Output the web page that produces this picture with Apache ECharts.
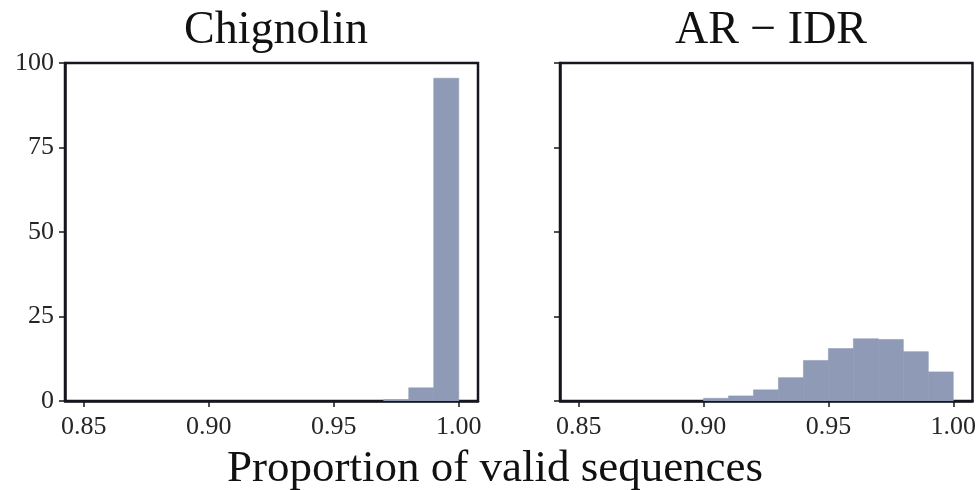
<!DOCTYPE html>
<html>
<head>
<meta charset="utf-8">
<script src="https://cdn.jsdelivr.net/npm/echarts@6/dist/echarts.min.js"></script>
<style>
  html, body { margin: 0; padding: 0; background: #ffffff; }
  #chart { width: 979px; height: 490px; }
</style>
</head>
<body>
<div id="chart"></div>
<script>
// Histogram bins (width 0.01) and densities for each system
const binStarts = [0.90, 0.91, 0.92, 0.93, 0.94, 0.95, 0.96, 0.97, 0.98, 0.99];
const binWidth = 0.01;
const chignolinDensity = [0, 0, 0, 0, 0, 0, 0, 0.4, 3.9, 95.5];
const arIdrDensity = [0.8, 1.5, 3.3, 6.9, 12.0, 15.5, 18.4, 18.2, 14.6, 8.6];

const panelTitles = ['Chignolin', 'AR \u2212 IDR'];
const xTicks = [0.85, 0.90, 0.95, 1.00];
const xLabel = 'Proportion of valid sequences';

const FONT = 'Liberation Serif';
const INK = '#16161f';
const BAR = '#8e9ab6';

function binData(values) {
  return binStarts.map((s, i) => [s, s + binWidth, values[i]]);
}

// One rectangle per non-empty bin, spanning [start, end] on x and [0, density] on y
function histItem(params, api) {
  if (!(api.value(2) > 0)) return null;
  const topLeft = api.coord([api.value(0), api.value(2)]);
  const bottomRight = api.coord([api.value(1), 0]);
  return {
    type: 'rect',
    shape: {
      x: topLeft[0],
      y: topLeft[1],
      width: bottomRight[0] - topLeft[0],
      height: bottomRight[1] - topLeft[1]
    },
    style: { fill: BAR, stroke: BAR, lineWidth: 0.6 }
  };
}

const grids = [
  { left: 65, top: 63, width: 413, height: 338 },
  { left: 560, top: 63, width: 413, height: 338 }
].map(g => Object.assign(g, { show: true, borderColor: INK, borderWidth: 2.5, backgroundColor: 'transparent' }));

function xAxis(gridIndex) {
  return {
    type: 'value', gridIndex,
    min: 0.8425, max: 1.0077,
    axisLine: { show: true, lineStyle: { color: INK, width: 2.5 } },
    axisTick: { show: true, customValues: xTicks, length: 6, lineStyle: { color: INK, width: 1.5 } },
    axisLabel: {
      show: true, customValues: xTicks, margin: 13,
      formatter: v => v.toFixed(2),
      fontFamily: FONT, fontSize: 26, color: '#262626'
    },
    splitLine: { show: false }
  };
}

function yAxis(gridIndex, labels) {
  return {
    type: 'value', gridIndex,
    min: 0, max: 100, interval: 25,
    axisLine: { show: true, lineStyle: { color: INK, width: 2.5 } },
    axisTick: { show: true, length: 6, lineStyle: { color: INK, width: 1.5 } },
    axisLabel: {
      show: labels, margin: 11,
      fontFamily: FONT, fontSize: 26, color: '#262626'
    },
    splitLine: { show: false }
  };
}

const chart = echarts.init(document.getElementById('chart'), null, { renderer: 'canvas' });
chart.setOption({
  animation: false,
  backgroundColor: '#ffffff',
  title: [
    { text: panelTitles[0], left: 271, top: 3, textAlign: 'center',
      textStyle: { fontFamily: FONT, fontSize: 46, fontWeight: 'normal', color: '#111' } },
    { text: panelTitles[1], left: 766, top: 3, textAlign: 'center',
      textStyle: { fontFamily: FONT, fontSize: 46, fontWeight: 'normal', color: '#111' } },
    { text: xLabel, left: 490, top: 442, textAlign: 'center',
      textStyle: { fontFamily: FONT, fontSize: 45, fontWeight: 'normal', color: '#111' } }
  ],
  grid: grids,
  xAxis: [xAxis(0), xAxis(1)],
  yAxis: [yAxis(0, true), yAxis(1, false)],
  series: [
    { type: 'custom', xAxisIndex: 0, yAxisIndex: 0, renderItem: histItem,
      encode: { x: [0, 1], y: 2 }, data: binData(chignolinDensity), clip: true },
    { type: 'custom', xAxisIndex: 1, yAxisIndex: 1, renderItem: histItem,
      encode: { x: [0, 1], y: 2 }, data: binData(arIdrDensity), clip: true }
  ]
});
</script>
</body>
</html>
